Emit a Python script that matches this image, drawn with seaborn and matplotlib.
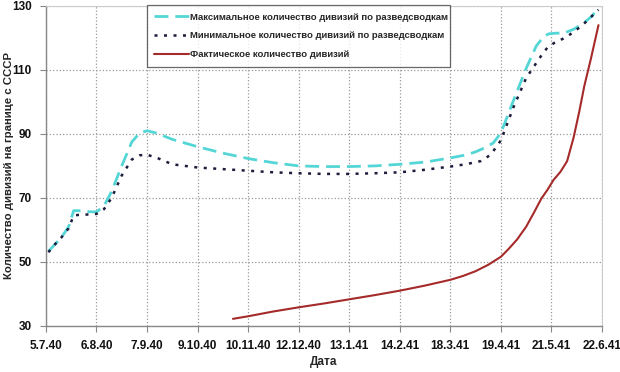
import numpy as np
import pandas as pd
import seaborn as sns
import matplotlib.pyplot as plt

# tick labels (dates of the intelligence reports), equally spaced
dates = ['5.7.40', '6.8.40', '7.9.40', '9.10.40', '10.11.40', '12.12.40',
         '13.1.41', '14.2.41', '18.3.41', '19.4.41', '21.5.41', '22.6.41']

# max estimate (position in tick units, divisions)
max_x = [0.05, 0.15, 0.3, 0.45, 0.55, 0.7, 0.85, 1.0, 1.15, 1.3, 1.5, 1.7, 1.85, 2.0, 2.2,
         2.5, 3.0, 3.5, 4.0, 4.5, 5.0, 5.5, 6.0, 6.5, 7.0, 7.5, 8.0, 8.3, 8.5, 8.7, 8.85,
         9.0, 9.25, 9.5, 9.7, 9.85, 9.95, 10.1, 10.25, 10.45, 10.65, 10.8, 10.93]
max_y = [53.3, 55.0, 57.5, 61.0, 66.0, 66.0, 65.7, 65.6, 67.5, 72.0, 80.0, 87.5, 90.2, 91.0, 90.2,
         88.3, 86.0, 84.0, 82.3, 81.0, 80.0, 79.8, 79.8, 80.0, 80.5, 81.2, 82.5, 83.4, 84.4, 85.8, 87.2,
         90.3, 100.5, 110.5, 117.5, 120.5, 121.3, 121.5, 121.5, 122.8, 124.8, 126.8, 129.4]

# min estimate
min_x = [0.05, 0.15, 0.3, 0.45, 0.55, 0.7, 0.85, 1.0, 1.15, 1.3, 1.5, 1.7, 1.85, 2.0, 2.2,
         2.5, 3.0, 3.5, 4.0, 4.5, 5.0, 5.5, 6.0, 6.5, 7.0, 7.5, 8.0, 8.3, 8.6, 8.8,
         9.0, 9.25, 9.5, 9.65, 9.8, 9.92, 10.05, 10.3, 10.6, 10.93]
min_y = [53.0, 55.0, 57.5, 60.5, 64.5, 64.8, 64.8, 65.0, 66.5, 70.0, 77.0, 82.0, 83.3, 83.5, 82.5,
         80.5, 79.5, 79.0, 78.5, 78.0, 77.7, 77.5, 77.5, 77.7, 78.0, 78.8, 79.8, 80.5, 81.5, 83.5,
         88.0, 98.4, 107.5, 111.0, 114.5, 117.0, 118.4, 120.3, 123.8, 128.8]

# actual number of divisions
act_x = [3.7, 4.0, 4.5, 5.0, 5.5, 6.0, 6.5, 7.0, 7.5, 8.0, 8.25, 8.5, 8.75, 9.0, 9.15, 9.32,
         9.5, 9.65, 9.8, 9.92, 10.04, 10.18, 10.31, 10.44, 10.55, 10.65, 10.78, 10.93]
act_y = [32.2, 33.0, 34.5, 35.8, 37.0, 38.3, 39.6, 41.0, 42.6, 44.4, 45.6, 47.1, 49.1, 51.6, 54.0, 57.0,
         61.0, 65.3, 69.8, 72.5, 75.6, 78.2, 81.5, 89.0, 97.0, 105.0, 113.5, 124.0]

names = ['Максимальное количество дивизий по разведсводкам',
         'Минимальное количество дивизий по разведсводкам',
         'Фактическое количество дивизий']

sns.set_style('white')
plt.rcParams['font.family'] = ['Liberation Sans', 'DejaVu Sans']

fig = plt.figure(figsize=(6.2, 3.72), dpi=100)
ax = fig.add_axes([0.074, 0.124, 0.897, 0.86])

sns.lineplot(x=max_x, y=max_y, ax=ax, color='#55d6d6', linewidth=2, label=names[0])
sns.lineplot(x=min_x, y=min_y, ax=ax, color='#1c1c3c', linewidth=1.8, label=names[1])
sns.lineplot(x=act_x, y=act_y, ax=ax, color='#a52a2a', linewidth=1.5, label=names[2])
ax.lines[0].set_dashes([5, 2.5])
ax.lines[1].set_dashes([1.2, 2.6])

ax.set_xlim(0, 11)
ax.set_ylim(30, 130)
ax.set_xticks(range(len(dates)))
ax.set_xticklabels(dates, fontweight='bold', fontsize=8.5, color='#111111')
ax.set_yticks([30, 50, 70, 90, 110, 130])
ax.set_yticklabels(['30', '50', '70', '90', '110', '130'], fontweight='bold', fontsize=8.5, color='#111111')
ax.tick_params(axis='both', length=4, width=0.8, color='#888888', direction='out', pad=6)
ax.tick_params(axis='x', bottom=True)
ax.tick_params(axis='y', left=True)

ax.grid(True, linestyle=':', color='#999999', linewidth=0.9)
for s in ['top', 'right']:
    ax.spines[s].set_color('#cccccc')
    ax.spines[s].set_linewidth(0.8)
for s in ['left', 'bottom']:
    ax.spines[s].set_color('#888888')
    ax.spines[s].set_linewidth(1.0)

ax.set_xlabel('Дата', fontweight='bold', fontsize=8.5)
ax.xaxis.set_label_coords(0.5, -0.095)
ax.set_ylabel('Количество дивизий на границе с СССР', fontweight='bold', fontsize=8.2)
ax.yaxis.set_label_coords(-0.058, 0.5)

leg = ax.legend(loc='upper left', bbox_to_anchor=(0.1817, 1.003, 0.545, 0.0), mode='expand',
                borderaxespad=0, prop={'weight': 'bold', 'size': 6.8}, frameon=True, fancybox=False,
                edgecolor='#444444', handlelength=3.7, handletextpad=0.1,
                labelspacing=1.05, borderpad=0.8)
leg.get_frame().set_linewidth(0.9)

fig.savefig('out.png', dpi=100)
